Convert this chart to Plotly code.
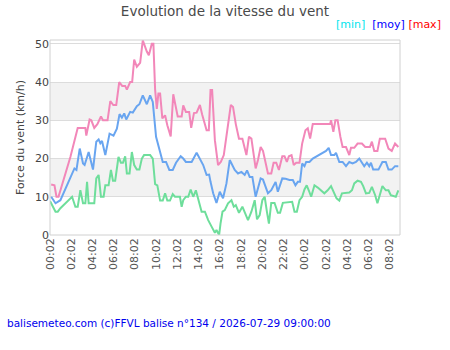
import datetime as dt
import plotly.graph_objects as go

# hours after 2026-07-28 00:02, and wind speeds (km/h)
max_hours = [0.11, 0.42, 0.61, 0.80, 1.92, 2.61, 3.33, 3.42, 3.73, 3.89, 4.17, 4.46, 4.80, 4.99, 5.42, 5.68, 5.96, 6.24,
             6.52, 6.80, 7.08, 7.24, 7.55, 7.74, 7.93, 8.18, 8.49, 8.74, 9.12, 9.31, 9.59, 9.74, 9.90, 10.06, 10.21,
             10.37, 10.58, 10.84, 11.05, 11.37, 11.61, 12.03, 12.40, 12.55, 12.80, 13.11, 13.30, 13.56, 13.81, 14.12,
             14.33, 14.75, 14.96, 15.12, 15.27, 15.53, 15.83, 16.09, 16.37, 16.77, 17.03, 17.24, 17.50, 17.80, 18.12,
             18.50, 18.74, 18.97, 19.37, 19.59, 19.84, 20.06, 20.31, 20.53, 20.84, 21.06, 21.31, 21.56, 21.88, 22.09,
             22.31, 22.50, 22.75, 22.96, 23.19, 23.50, 23.75, 24.06, 24.28, 24.50, 24.75, 26.38, 26.47, 26.69, 26.88,
             27.09, 27.35, 27.56, 27.88, 28.19, 28.35, 28.66, 28.97, 29.38, 29.69, 30.13, 30.32, 30.54, 30.84, 31.07,
             31.57, 31.88, 32.19, 32.50, 32.81]
max_vals = [13.2, 13, 10, 10, 20.4, 28, 28, 26, 30.2, 30, 28, 29, 31, 30, 30, 35, 34, 34,
            40, 39, 39, 38, 40, 40, 45.9, 44, 45, 50.9, 48, 47, 50, 50, 38, 33, 37,
            37, 30.5, 31.3, 28.7, 25.8, 36.8, 31, 31, 33.9, 32.2, 32.2, 28, 31.9, 32, 34,
            31.5, 27.4, 27.4, 37.9, 37.9, 24.8, 18.3, 19.1, 20.9, 29.2, 34, 33.5, 29, 25.2, 25.2,
            20.9, 25.7, 25.2, 17.4, 19.6, 23, 22, 18.7, 16.1, 16.1, 18.9, 18.9, 17, 20.6, 20.6,
            19.1, 20.6, 20.9, 18.3, 18.9, 18.9, 23.9, 27.4, 27.9, 25.2, 29, 29, 30, 27, 30,
            30, 25.7, 23, 23, 20.9, 22.8, 22.8, 23.9, 23.9, 23, 23, 24.4, 22, 22, 25.2,
            25.2, 22.6, 22, 23.9, 23]

moy_hours = [0.11, 0.52, 0.98, 2.08, 2.30, 2.49, 2.80, 3.11, 3.26, 3.64, 4.05, 4.36, 4.58, 4.74, 4.90, 5.21, 5.61, 5.98,
             6.30, 6.55, 6.77, 6.99, 7.18, 7.55, 7.80, 8.18, 8.42, 8.74, 9.12, 9.43, 9.68, 9.99, 10.21, 10.37, 10.62,
             10.93, 11.24, 11.56, 11.87, 12.31, 12.55, 12.80, 13.34, 13.81, 14.12, 14.43, 14.75, 14.99, 15.12, 15.37,
             15.68, 15.99, 16.30, 16.62, 16.93, 17.15, 17.40, 17.71, 18.03, 18.34, 18.56, 18.81, 19.06, 19.37, 19.84,
             20.06, 20.53, 20.84, 21.25, 21.46, 21.88, 22.19, 22.56, 22.87, 23.12, 23.34, 23.55, 23.75, 23.97, 24.13,
             24.44, 24.75, 25.38, 26.00, 26.25, 26.47, 26.78, 26.94, 27.25, 27.56, 27.88, 28.19, 28.50, 28.82, 29.13,
             29.38, 29.60, 29.85, 30.07, 30.23, 30.44, 30.94, 31.31, 31.63, 31.88, 32.19, 32.50, 32.81]
moy_vals = [10, 8.3, 9.1, 16.1, 17.4, 17, 22.6, 18.7, 18.3, 21.7, 17.1, 24.4, 25, 24, 24.6, 20.9, 26.5, 26,
            27.8, 31.6, 30.7, 31.8, 30.2, 32.2, 32, 33.7, 34.2, 36.5, 34.2, 36.5, 34.8, 25.7, 23.5, 22.2, 19.1,
            19.1, 17, 17, 18.9, 20.6, 20, 19.1, 19.1, 21.5, 20, 18.3, 15.7, 15.8, 13.9, 10.9,
            8.4, 11.3, 9.6, 13.5, 19.6, 18.3, 17, 16.1, 16.5, 15.7, 16.9, 15.2, 15.2, 10, 14.8,
            14.5, 10.9, 11.7, 13.9, 11.3, 14.8, 14.7, 14.4, 14.4, 13, 13.9, 13.9, 18.7, 18, 19.1,
            19.1, 20, 20.9, 22, 22.8, 20.9, 20.9, 21.5, 19.1, 19.1, 18, 19.1, 18.7, 19.1, 20,
            19.1, 18, 18.9, 18, 18.9, 17.1, 17.1, 19.1, 19.1, 17.1, 17.1, 18, 18]

min_hours = [0.0, 0.52, 0.73, 0.98, 2.08, 2.39, 2.61, 2.86, 3.11, 3.33, 3.49, 3.64, 4.17, 4.36, 4.58, 4.80, 5.05, 5.21,
             5.52, 5.74, 5.93, 6.14, 6.45, 6.68, 6.87, 7.08, 7.24, 7.49, 7.71, 7.93, 8.18, 8.42, 8.65, 8.86, 9.43,
             9.68, 9.90, 10.11, 10.37, 10.62, 10.84, 11.05, 11.30, 11.56, 11.77, 12.24, 12.40, 12.55, 12.80, 13.02,
             13.25, 13.49, 13.74, 13.96, 14.28, 14.59, 14.90, 15.22, 15.53, 15.68, 15.93, 16.06, 16.25, 16.46, 16.77,
             17.09, 17.31, 17.50, 17.80, 18.12, 18.34, 18.65, 18.97, 19.28, 19.50, 19.75, 20.00, 20.22, 20.43, 20.62,
             20.84, 21.15, 21.46, 21.67, 21.93, 22.81, 23.03, 23.25, 23.50, 23.75, 23.97, 24.18, 24.37, 24.60, 24.91,
             25.22, 25.84, 26.15, 26.47, 26.78, 26.99, 27.25, 27.50, 28.19, 28.44, 28.66, 28.97, 29.29, 29.50, 29.76,
             30.07, 30.32, 30.63, 30.84, 31.00, 31.31, 31.63, 31.88, 32.10, 32.57, 32.81]
min_vals = [8.9, 6.1, 6.1, 7, 10, 7.4, 7.4, 11.7, 8.3, 8.3, 13.9, 8.3, 8.3, 14.8, 15.7, 10, 10, 13,
            13, 17, 14.2, 14.2, 20.4, 18.9, 18.9, 20.6, 16.1, 16.1, 21.7, 18.3, 17.1, 17.1, 20, 20.9, 20.9,
            20, 13.3, 13, 9, 9, 10.9, 9, 9, 10.7, 10, 10, 7.4, 9.1, 10, 10,
            11.9, 10, 11.7, 9.1, 6.1, 6.1, 3.9, 2.2, 0.6, 1.3, 0, 3, 6.1, 6.5, 8.3,
            9.1, 7.4, 7.8, 5.8, 7.4, 6.1, 3.9, 6.1, 9.1, 4.1, 5.2, 9.1, 10, 6.1, 3,
            8.4, 8.4, 5.8, 5.8, 8.4, 8.7, 6.1, 6.1, 9.1, 10, 11.9, 13, 11.7, 10, 13,
            12.4, 10.9, 11.7, 12.8, 10.9, 9.6, 9, 10.9, 11.1, 11.7, 13.5, 14.2, 13.9, 12.8, 10.9,
            11, 12.6, 10.4, 8.3, 10, 12.8, 11.7, 11.7, 10.4, 10, 11.7]

start = dt.datetime(2026, 7, 28, 0, 2)
end = dt.datetime(2026, 7, 29, 9, 0)


def times(hours):
    return [start + dt.timedelta(hours=h) for h in hours]


FONT = "DejaVu Sans"
fig = go.Figure()
fig.add_trace(go.Scatter(x=times(min_hours), y=min_vals, mode="lines", name="min",
                         line=dict(color="rgb(110,222,155)", width=2)))
fig.add_trace(go.Scatter(x=times(moy_hours), y=moy_vals, mode="lines", name="moy",
                         line=dict(color="rgb(105,165,240)", width=2)))
fig.add_trace(go.Scatter(x=times(max_hours), y=max_vals, mode="lines", name="max",
                         line=dict(color="rgb(242,135,185)", width=2)))

shapes = []
for lo, hi in [(10, 20), (30, 40)]:
    shapes.append(dict(type="rect", xref="paper", yref="y", x0=0, x1=1, y0=lo, y1=hi,
                       fillcolor="#f2f2f2", line=dict(width=0), layer="below"))
shapes.append(dict(type="rect", xref="paper", yref="paper", x0=0, x1=1, y0=0, y1=1,
                   line=dict(color="#d0d0d0", width=1), layer="above"))
fig.update_layout(
    width=450, height=350,
    margin=dict(l=50, r=50, t=40, b=115),
    paper_bgcolor="white", plot_bgcolor="white",
    showlegend=False,
    shapes=shapes,
    font=dict(family=FONT, size=11, color="#444"),
    title=dict(text="Evolution de la vitesse du vent", x=0.5, xref="container", xanchor="center",
               y=1 - 11 / 350, yref="container", yanchor="middle",
               font=dict(family=FONT, size=13.5, color="#4a4a4a")),
    annotations=[
        dict(text="<span style='color:#00e5ee'>[min]</span>  <span style='color:#0000ff'>[moy]</span> "
                  "<span style='color:#ff0000'>[max]</span>",
             xref="paper", yref="paper", x=(443 - 50) / 350, y=(235 - 24) / 195,
             xanchor="right", yanchor="middle", showarrow=False,
             font=dict(family=FONT, size=11)),
        dict(text="balisemeteo.com (c)FFVL balise n°134 / 2026-07-29 09:00:00",
             xref="paper", yref="paper", x=(5 - 50) / 350, y=(235 - 323) / 195,
             xanchor="left", yanchor="middle", showarrow=False,
             font=dict(family=FONT, size=10.5, color="#0000ee")),
    ],
)
fig.update_xaxes(range=[start, end], type="date", tick0=start, dtick=2 * 3600 * 1000,
                 tickformat="%H:%M", tickangle=-90, showgrid=False, zeroline=False,
                 ticks="", showline=False, tickfont=dict(family=FONT, size=11, color="#555"))
fig.update_yaxes(range=[0, 51], tickvals=[0, 10, 20, 30, 40, 50], showgrid=True, gridcolor="#dcdcdc",
                 gridwidth=1, zeroline=False, showline=False, ticks="",
                 title=dict(text="Force du vent (km/h)", font=dict(family=FONT, size=11, color="#444"),
                            standoff=8),
                 tickfont=dict(family=FONT, size=11, color="#444"))

fig.write_html("out.html")
